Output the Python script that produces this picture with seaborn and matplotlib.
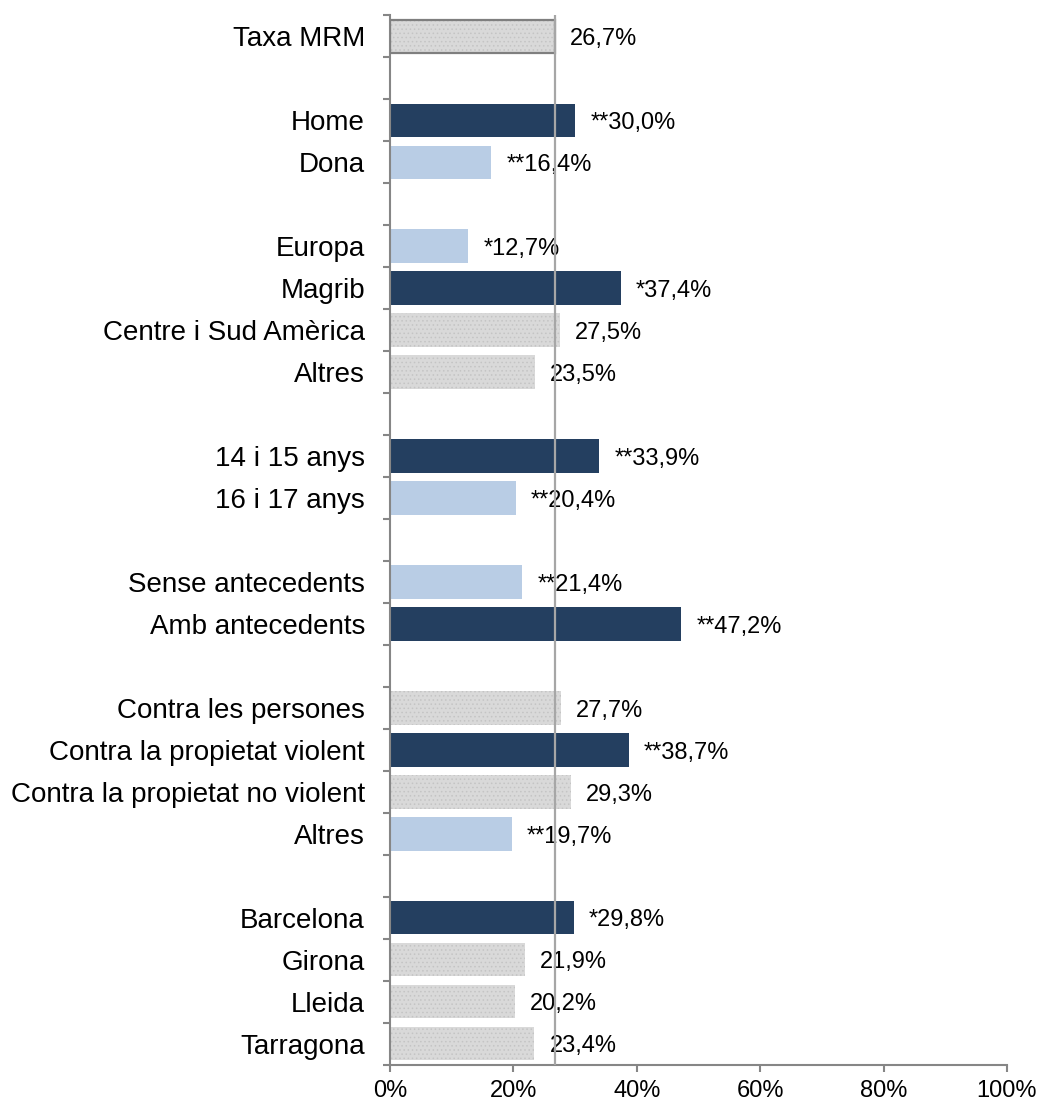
import matplotlib
matplotlib.use("Agg")
import matplotlib.pyplot as plt
from matplotlib.patches import Rectangle
from matplotlib.ticker import FixedLocator, PercentFormatter
import numpy as np
import pandas as pd
import seaborn as sns

# dades (buit = separació entre grups)
labels = ["Taxa MRM", "",
          "Home", "Dona", "",
          "Europa", "Magrib", "Centre i Sud Amèrica", "Altres", "",
          "14 i 15 anys", "16 i 17 anys", "",
          "Sense antecedents", "Amb antecedents", "",
          "Contra les persones", "Contra la propietat violent",
          "Contra la propietat no violent", "Altres", "",
          "Barcelona", "Girona", "Lleida", "Tarragona"]
values = [26.7, None,
          30.0, 16.4, None,
          12.7, 37.4, 27.5, 23.5, None,
          33.9, 20.4, None,
          21.4, 47.2, None,
          27.7, 38.7, 29.3, 19.7, None,
          29.8, 21.9, 20.2, 23.4]
signif = ["", "",
          "**", "**", "",
          "*", "*", "", "", "",
          "**", "**", "",
          "**", "**", "",
          "", "**", "", "**", "",
          "*", "", "", ""]
groups = ["total", "",
          "alt", "baix", "",
          "baix", "alt", "ns", "ns", "",
          "alt", "baix", "",
          "baix", "alt", "",
          "ns", "alt", "ns", "baix", "",
          "alt", "ns", "ns", "ns"]

palette = {"alt": "#243f60", "baix": "#b9cde5", "ns": "#d9d9d9", "total": "#d9d9d9"}
GREY_AXIS = "#868686"

keys = [f"k{i}" for i in range(len(labels))]
df = pd.DataFrame({"key": keys, "valor": values, "grup": groups, "sig": signif})
df_bars = df[df["valor"].notna()]

plt.rcParams["font.family"] = ["Liberation Sans", "DejaVu Sans"]
plt.rcParams["hatch.linewidth"] = 0.6

fig = plt.figure(figsize=(10.41, 11.02), dpi=100)
ax = fig.add_axes([0.3746, 0.034, 0.5927, 0.952])

sns.barplot(data=df_bars, x="valor", y="key", order=keys, hue="grup",
            palette=palette, dodge=False, legend=False, width=0.8,
            orient="h", ax=ax, saturation=1)

# textura puntejada per a les barres grises
for bar in ax.patches:
    fc = bar.get_facecolor()
    if np.allclose(fc[:3], matplotlib.colors.to_rgb(palette["ns"])):
        bar.set_hatch("....")
        bar.set_edgecolor("#c4c4c4")
        bar.set_linewidth(0)

# barra de la taxa total amb vora
taxa = values[0]
for bar in ax.patches:
    if abs(bar.get_width() - taxa) < 1e-9 and abs(bar.get_y() + bar.get_height() / 2) < 1e-9:
        ax.add_patch(Rectangle((bar.get_x(), bar.get_y()), bar.get_width(), bar.get_height(),
                               fill=False, edgecolor="#7f7f7f", linewidth=1.6, zorder=3))

# línia de referència
ax.axvline(taxa, color="#a6a6a6", linewidth=1.6, zorder=4)

# etiquetes de valor
for i, (v, s) in enumerate(zip(values, signif)):
    if v is None:
        continue
    txt = s + f"{v:.1f}".replace(".", ",") + "%"
    ax.annotate(txt, xy=(v, i), xytext=(11, -2), textcoords="offset points",
                va="center", ha="left", fontsize=17, color="black")

ax.set_xlim(0, 100)
ax.set_ylim(len(labels) - 0.5, -0.5)
ax.xaxis.set_major_locator(FixedLocator([0, 20, 40, 60, 80, 100]))
ax.xaxis.set_major_formatter(PercentFormatter(decimals=0))

ax.set_yticks(range(len(labels)))
ax.set_yticklabels(labels)
ax.yaxis.set_minor_locator(FixedLocator(np.arange(-0.5, len(labels), 1.0)))
ax.tick_params(axis="y", which="major", length=0, pad=18, labelsize=20)
ax.tick_params(axis="y", which="minor", length=5, width=1.5, color=GREY_AXIS, direction="out")
ax.tick_params(axis="x", which="major", length=5, width=1.5, color=GREY_AXIS,
               labelsize=17, pad=6)

ax.set_xlabel("")
ax.set_ylabel("")
for side in ["top", "right"]:
    ax.spines[side].set_visible(False)
for side in ["left", "bottom"]:
    ax.spines[side].set_color(GREY_AXIS)
    ax.spines[side].set_linewidth(1.5)
ax.grid(False)

fig.savefig("out.png", dpi=100)
